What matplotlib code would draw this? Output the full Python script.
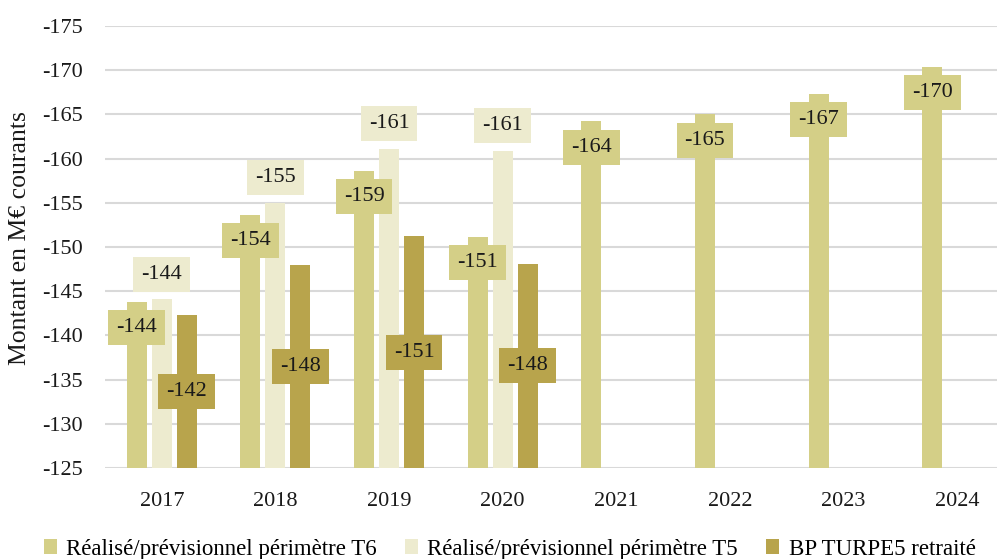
import matplotlib
matplotlib.use("Agg")
import matplotlib.pyplot as plt
import numpy as np

years = ["2017", "2018", "2019", "2020", "2021", "2022", "2023", "2024"]
t6 = [-143.8, -153.6, -158.6, -151.1, -164.2, -165.0, -167.3, -170.4]
t5 = [-144.1, -155.0, -161.1, -160.9, np.nan, np.nan, np.nan, np.nan]
bp = [-142.3, -148.0, -151.2, -148.1, np.nan, np.nan, np.nan, np.nan]
series_names = ["Réalisé/prévisionnel périmètre T6",
                "Réalisé/prévisionnel périmètre T5",
                "BP TURPE5 retraité"]
colors = ["#D4CF87", "#EDEBCF", "#B8A44C"]
base = -125

plt.rcParams['font.family'] = ['Liberation Serif', 'DejaVu Serif']
plt.rcParams['axes.unicode_minus'] = False

fig = plt.figure(figsize=(9.97, 5.59), dpi=100)
ax = fig.add_axes([105/997, 91/559, 892/997, 442/559])

x = np.arange(len(years))
w = 0.176
off = 0.22
data = [t6, t5, bp]
lab_fs = 16
for i, (vals, col, name) in enumerate(zip(data, colors, series_names)):
    xs = x + (i - 1) * off
    v = np.array(vals, dtype=float)
    heights = v - base
    ax.bar(xs, heights, width=w, bottom=base, color=col, label=name, zorder=2)
    for xi, vi in zip(xs, v):
        if np.isnan(vi):
            continue
        lab = f"{vi:.0f}"
        if i == 0:
            pos, dy = (xi, vi), -18.5
        elif i == 1:
            pos, dy = (xi, vi), 18
        else:
            pos, dy = (xi, (vi + base) / 2), 0
        ax.annotate(lab, pos, xytext=(0, dy), textcoords='offset points',
                    ha='center', va='center', fontsize=lab_fs, color='#1a1a1a', zorder=4,
                    bbox=dict(boxstyle='square,pad=0.36', facecolor=col, edgecolor='none'))

ax.set_ylim(-125, -175)
ax.set_yticks(np.arange(-125, -176, -5))
ax.set_xlim(-0.5, 7.35)
ax.set_xticks(x)
ax.set_xticklabels(years)
ax.tick_params(axis='both', length=0, labelsize=16, colors='#1a1a1a')
ax.tick_params(axis='x', pad=17)
ax.tick_params(axis='y', pad=16)
ax.yaxis.grid(True, color='#d9d9d9', linewidth=1.5, zorder=0)
ax.set_axisbelow(True)
for s in ax.spines.values():
    s.set_visible(False)
ax.set_ylabel("Montant en M€ courants", fontsize=18.5, color='#1a1a1a')
ax.yaxis.set_label_coords(-0.083, 0.52)

leg = fig.legend(loc='lower center', bbox_to_anchor=(0.511, -0.038), ncol=3, frameon=False,
                 fontsize=16.5, handlelength=0.6, handleheight=0.6, handletextpad=0.4,
                 columnspacing=1.2)

fig.savefig("out.png", dpi=100)
